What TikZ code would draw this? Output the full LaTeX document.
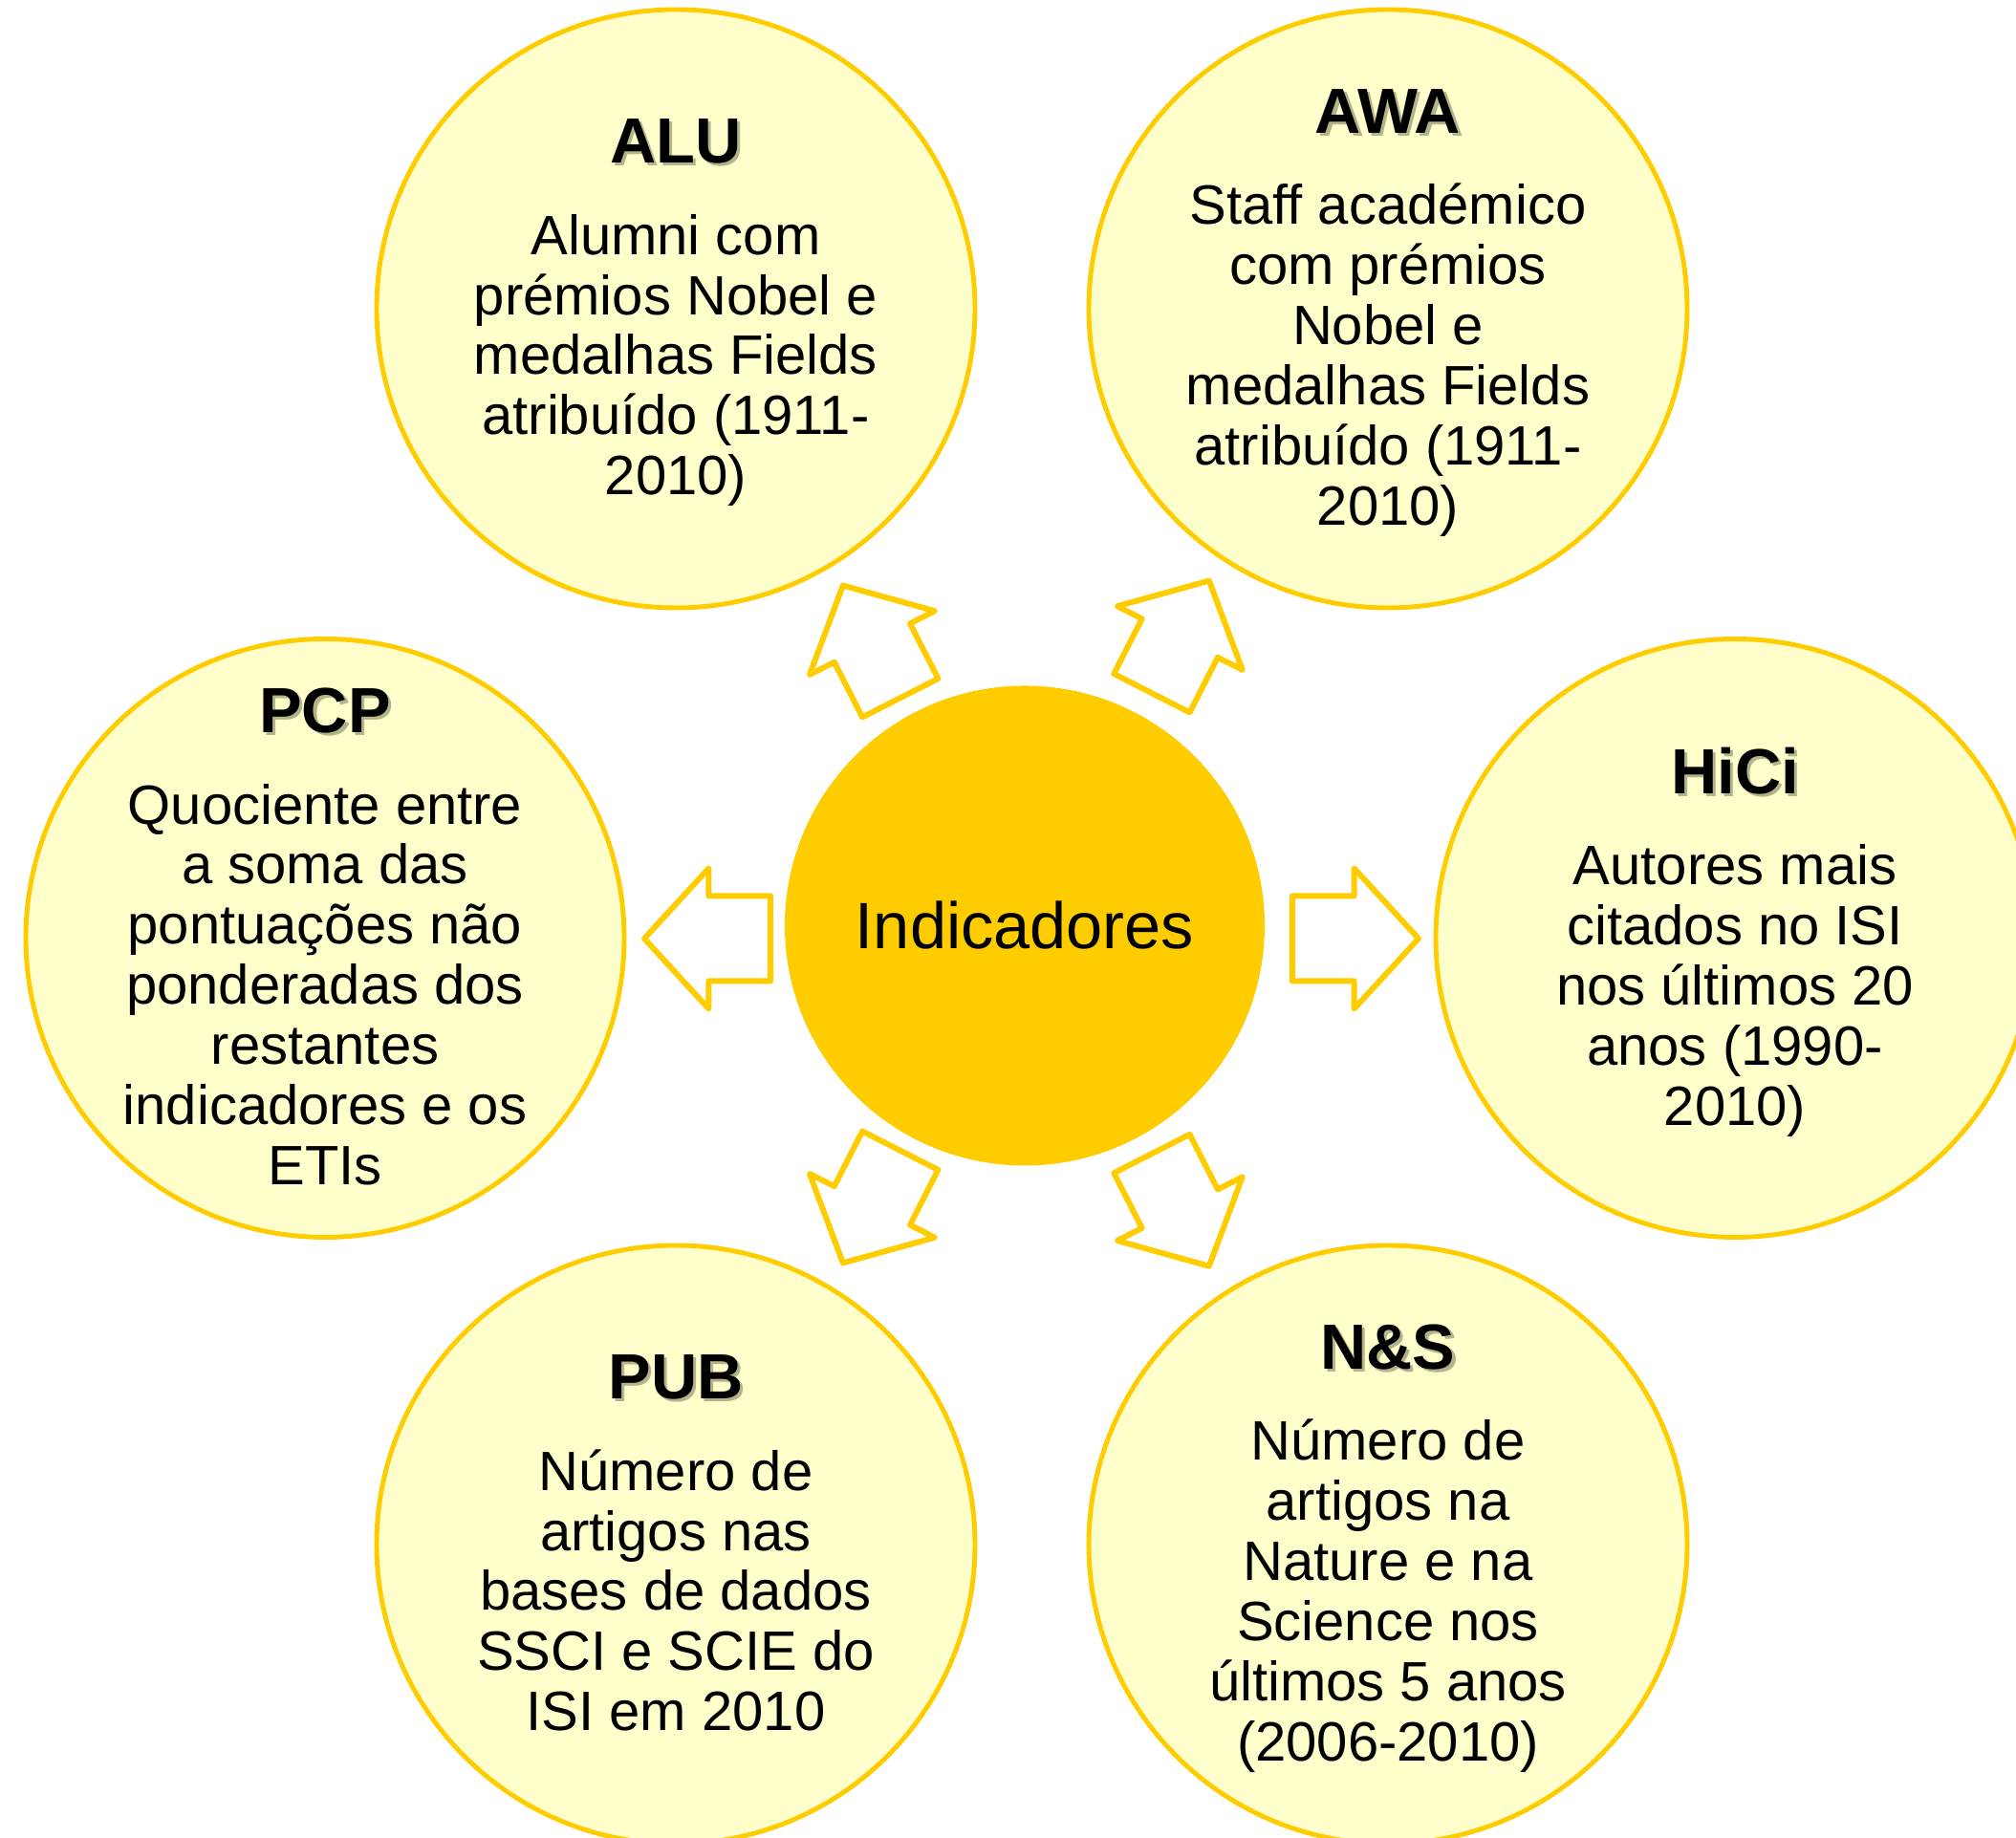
\documentclass[tikz,border=0pt]{standalone}
\usepackage{fontspec}
\setmainfont{Liberation Sans}
\usetikzlibrary{shapes.arrows}
\definecolor{ouro}{RGB}{255,204,0}
\definecolor{creme}{RGB}{255,255,204}
\definecolor{sombra}{RGB}{180,180,140}
\newcommand{\titulo}[1]{{\fontsize{19}{19}\selectfont\bfseries\rlap{\kern0.9pt\raisebox{-0.9pt}{\textcolor{sombra}{#1}}}#1}}
\newcommand{\fim}{\rule[-3.6pt]{0pt}{3.6pt}}
\begin{document}
\begin{tikzpicture}[
  indic/.style={shape=circle, draw=ouro, fill=creme, line width=1.4pt, minimum size=6.26cm, inner sep=0pt},
  texto/.style={align=center, font=\fontsize{16.5}{17.9}\selectfont, inner sep=0pt, yshift=-0.045cm},
  seta/.style={single arrow, draw=ouro, fill=white, line width=1.7pt, line join=round, minimum height=1.32cm, inner xsep=0pt, inner ysep=0.415cm, single arrow head extend=0.29cm, single arrow tip angle=95, anchor=tip}
]
\useasboundingbox (0,0) rectangle (21.09,19.23);
% centro
\node[shape=circle, fill=ouro, minimum size=5.02cm, inner sep=0pt, font=\fontsize{19.5}{21}\selectfont] (ind) at (10.72,9.545) {Indicadores};
% indicadores
\node[indic] (ALU) at (7.07,16.00) {};
\node[indic] (AWA) at (14.52,16.00) {};
\node[indic] (PCP) at (3.40,9.415) {};
\node[indic] (HiCi) at (18.15,9.415) {};
\node[indic] (PUB) at (7.07,3.07) {};
\node[indic] (NS) at (14.52,3.07) {};
\node[texto] (ALUt) at (ALU) {\titulo{ALU}\\[9.3pt]Alumni com\\prémios Nobel e\\medalhas Fields\\atribuído (1911-\\2010)\fim};
\node[texto] (AWAt) at (AWA) {\titulo{AWA}\\[9.3pt]Staff académico\\com prémios\\Nobel e\\medalhas Fields\\atribuído (1911-\\2010)\fim};
\node[texto] (PCPt) at (PCP) {\titulo{PCP}\\[9.3pt]Quociente entre\\a soma das\\pontuações não\\ponderadas dos\\restantes\\indicadores e os\\ETIs\fim};
\node[texto] (HiCit) at (HiCi) {\titulo{HiCi}\\[9.3pt]Autores mais\\citados no ISI\\nos últimos 20\\anos (1990-\\2010)\fim};
\node[texto] (PUBt) at (PUB) {\titulo{PUB}\\[9.3pt]Número de\\artigos nas\\bases de dados\\SSCI e SCIE do\\ISI em 2010\fim};
\node[texto] (NSt) at (NS) {\titulo{N\&S}\\[9.3pt]Número de\\artigos na\\Nature e na\\Science nos\\últimos 5 anos\\(2006-2010)\fim};
% setas
\node[seta, rotate=180] (sPCP) at (6.70,9.41) {};
\node[seta] (sHiCi) at (14.88,9.41) {};
\node[seta, rotate=117] (sALU) at (8.80,13.14) {};
\node[seta, rotate=63] (sAWA) at (12.667,13.19) {};
\node[seta, rotate=243] (sPUB) at (8.80,5.98) {};
\node[seta, rotate=297] (sNS) at (12.667,5.947) {};
\end{tikzpicture}
\end{document}
